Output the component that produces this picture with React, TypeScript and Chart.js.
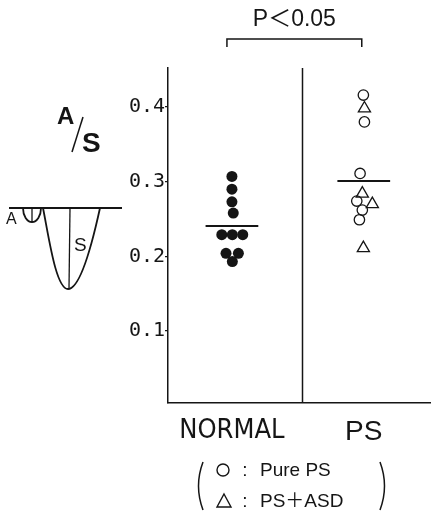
import { useEffect, useRef } from "react";
import { Chart, registerables } from "chart.js";

Chart.register(...registerables);

// ---- data ----
const groups = ["NORMAL", "PS"];
const yTickValues = [0.1, 0.2, 0.3, 0.4];
const normalValues = [0.307, 0.29, 0.273, 0.258, 0.229, 0.229, 0.229, 0.204, 0.204, 0.193];
const normalJitter = [0, 0, 0, 0.01, -0.077, 0.003, 0.082, -0.045, 0.049, 0.003];
const purePsValues = [0.416, 0.38, 0.311, 0.274, 0.262, 0.249];
const purePsJitter = [-0.003, 0.005, -0.028, -0.053, -0.011, -0.033];
const psAsdValues = [0.398, 0.284, 0.27, 0.211];
const psAsdJitter = [0.005, -0.011, 0.065, -0.003];
const groupMeans = [0.2406, 0.301];
const pValueText = "P＜0.05";
const legendLabels = ["Pure PS", "PS＋ASD"];
const ratioLabel = ["A", "S"];

const INK = "#151515";

const toPoints = (vals: number[], jit: number[], g: number) =>
  vals.map((v, i) => ({ x: g + jit[i], y: v }));

const meanLine = (g: number, m: number) => [
  { x: g - 0.2, y: m },
  { x: g + 0.2, y: m },
];

const decorPlugin = {
  id: "decor",
  afterDraw(chart: any) {
    const ctx: CanvasRenderingContext2D = chart.ctx;
    const xs = chart.scales.x;
    const ca = chart.chartArea;
    ctx.save();
    ctx.strokeStyle = INK;
    ctx.fillStyle = INK;
    ctx.lineCap = "butt";

    // divider between groups
    const dx = Math.round(xs.getPixelForValue(1.53)) + 0.5;
    ctx.lineWidth = 1.5;
    ctx.beginPath();
    ctx.moveTo(dx, ca.top);
    ctx.lineTo(dx, ca.bottom);
    ctx.stroke();

    // significance bracket
    const bx1 = xs.getPixelForValue(1) - 5;
    const bx2 = xs.getPixelForValue(2) - 2;
    ctx.lineWidth = 1.5;
    ctx.beginPath();
    ctx.moveTo(bx1, 47);
    ctx.lineTo(bx1, 39);
    ctx.lineTo(bx2, 39);
    ctx.lineTo(bx2, 47);
    ctx.stroke();
    ctx.font = "23px 'Liberation Sans', 'Noto Sans CJK JP', sans-serif";
    ctx.textAlign = "center";
    ctx.textBaseline = "alphabetic";
    ctx.fillText(pValueText, (bx1 + bx2) / 2, 26);

    // A/S label
    ctx.textAlign = "left";
    ctx.font = "bold 24px 'Liberation Sans', sans-serif";
    ctx.fillText(ratioLabel[0], 57, 124);
    ctx.font = "bold 28px 'Liberation Sans', sans-serif";
    ctx.fillText(ratioLabel[1], 82, 152);
    ctx.lineWidth = 1.5;
    ctx.beginPath();
    ctx.moveTo(83, 117);
    ctx.lineTo(72, 152);
    ctx.stroke();

    // flow diagram
    ctx.lineWidth = 1.8;
    ctx.beginPath();
    ctx.moveTo(9, 208);
    ctx.lineTo(122, 208);
    ctx.stroke();
    ctx.beginPath();
    ctx.ellipse(32, 208, 9, 14, 0, 0, Math.PI);
    ctx.stroke();
    ctx.lineWidth = 1.3;
    ctx.beginPath();
    ctx.moveTo(32, 208);
    ctx.lineTo(32, 222);
    ctx.stroke();
    ctx.lineWidth = 1.8;
    ctx.beginPath();
    ctx.moveTo(43, 208);
    ctx.bezierCurveTo(49, 238, 56, 289, 68, 289);
    ctx.bezierCurveTo(81, 289, 93, 240, 100, 208);
    ctx.stroke();
    ctx.lineWidth = 1.3;
    ctx.beginPath();
    ctx.moveTo(70, 208);
    ctx.lineTo(69, 288);
    ctx.stroke();
    ctx.font = "16px 'Liberation Sans', sans-serif";
    ctx.fillText(ratioLabel[0], 6, 224);
    ctx.font = "19px 'Liberation Sans', sans-serif";
    ctx.fillText(ratioLabel[1], 74, 251);

    // legend
    ctx.lineWidth = 1.5;
    ctx.beginPath();
    ctx.moveTo(203, 462);
    ctx.quadraticCurveTo(194, 486, 203, 510);
    ctx.stroke();
    ctx.beginPath();
    ctx.moveTo(380, 462);
    ctx.quadraticCurveTo(389, 486, 380, 510);
    ctx.stroke();
    ctx.lineWidth = 1.4;
    ctx.beginPath();
    ctx.arc(223, 470, 6, 0, Math.PI * 2);
    ctx.stroke();
    ctx.beginPath();
    ctx.moveTo(224, 494);
    ctx.lineTo(231, 507);
    ctx.lineTo(217, 507);
    ctx.closePath();
    ctx.stroke();
    ctx.font = "19px 'Liberation Sans', 'Noto Sans CJK JP', sans-serif";
    ctx.textAlign = "center";
    ctx.fillText(":", 245, 476);
    ctx.fillText(":", 245, 507);
    ctx.textAlign = "left";
    ctx.fillText(legendLabels[0], 260, 476);
    ctx.fillText(legendLabels[1], 260, 507);
    ctx.restore();
  },
};

export default function App() {
  const ref = useRef<HTMLCanvasElement | null>(null);
  useEffect(() => {
    if (!ref.current) return;
    const chart = new Chart(ref.current, {
      type: "scatter",
      data: {
        datasets: [
          {
            type: "line",
            label: "mean NORMAL",
            data: meanLine(1, groupMeans[0]),
            borderColor: INK,
            borderWidth: 2,
            pointRadius: 0,
          } as any,
          {
            type: "line",
            label: "mean PS",
            data: meanLine(2, groupMeans[1]),
            borderColor: INK,
            borderWidth: 2,
            pointRadius: 0,
          } as any,
          {
            label: groups[0],
            data: toPoints(normalValues, normalJitter, 1),
            pointStyle: "circle",
            pointRadius: 5.5,
            backgroundColor: INK,
            borderColor: INK,
            borderWidth: 0,
          },
          {
            label: legendLabels[0],
            data: toPoints(purePsValues, purePsJitter, 2),
            pointStyle: "circle",
            pointRadius: 5.2,
            backgroundColor: "rgba(255,255,255,0)",
            borderColor: INK,
            borderWidth: 1.3,
          },
          {
            label: legendLabels[1],
            data: toPoints(psAsdValues, psAsdJitter, 2),
            pointStyle: "triangle",
            pointRadius: 7,
            backgroundColor: "rgba(255,255,255,0)",
            borderColor: INK,
            borderWidth: 1.3,
          },
        ],
      },
      options: {
        responsive: false,
        devicePixelRatio: 1,
        animation: false,
        layout: { autoPadding: false, padding: { top: 68, left: 0, right: 0, bottom: 0 } },
        plugins: {
          legend: { display: false },
          tooltip: { enabled: false },
          title: { display: false },
        },
        scales: {
          x: {
            type: "linear",
            position: "bottom",
            min: 0.515,
            max: 2.51,
            grid: { display: false },
            border: { display: true, color: INK, width: 1.5 },
            afterBuildTicks: (s: any) => {
              s.ticks = groups.map((_, i) => ({ value: i + 1 }));
            },
            afterFit: (s: any) => {
              s.height = 108;
            },
            ticks: {
              autoSkip: false,
              maxRotation: 0,
              padding: 4,
              color: INK,
              font: (c: any) =>
                c.index === 1
                  ? { family: "'Liberation Sans', Arial", size: 28 }
                  : { family: "'DejaVu Sans Condensed', 'DejaVu Sans'", size: 27 },
              callback: (v: any) => groups[Math.round(Number(v)) - 1] ?? "",
            },
          },
          y: {
            type: "linear",
            min: 0.0036,
            max: 0.4522,
            grid: {
              display: true,
              drawOnChartArea: false,
              drawTicks: true,
              tickLength: 3,
              color: INK,
              lineWidth: 1.3,
            },
            border: { display: true, color: INK, width: 1.5 },
            afterBuildTicks: (s: any) => {
              s.ticks = yTickValues.map((v) => ({ value: v }));
            },
            afterFit: (s: any) => {
              s.width = 168;
            },
            ticks: {
              padding: 0,
              color: INK,
              font: { family: "'DejaVu Sans Mono', monospace", size: 20 },
              callback: (v: any) => Number(v).toFixed(1),
            },
          },
        },
      },
      plugins: [decorPlugin],
    });
    return () => chart.destroy();
  }, []);
  return (
    <div style={{ position: "fixed", left: 0, top: 0, width: 431, height: 511, background: "#fff" }}>
      <canvas ref={ref} width={431} height={511} style={{ display: "block" }} />
    </div>
  );
}
